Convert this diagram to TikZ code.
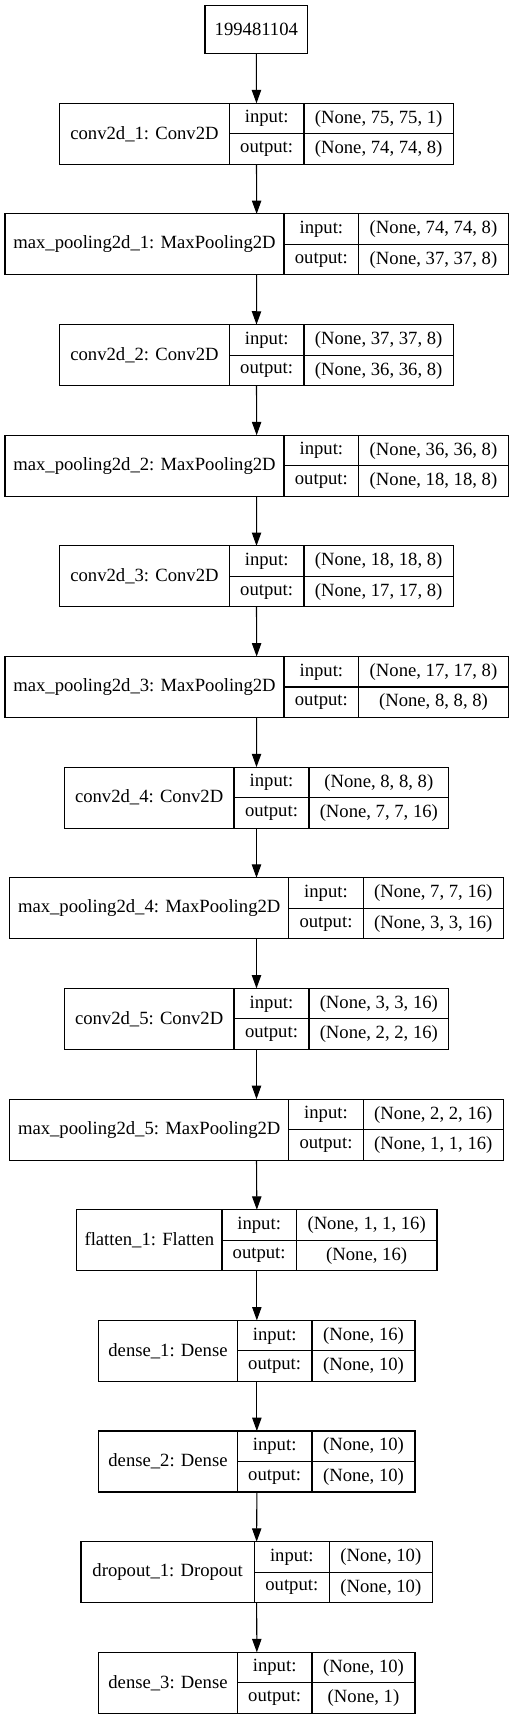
\documentclass[tikz,border=0pt]{standalone}
\usepackage{fontspec}
\setmainfont{Liberation Serif}
\usetikzlibrary{arrows.meta}

\tikzset{
  layerbox/.style={draw, line width=0.8pt, inner sep=0pt, outer sep=0pt, anchor=north west},
  celltext/.style={inner sep=0pt, font=\fontsize{14}{16}\selectfont},
  flow/.style={line width=0.8pt, -{Triangle[length=10pt,width=7pt]}}
}

\begin{document}
\begin{tikzpicture}[x=0.75pt, y=-0.75pt]
  \useasboundingbox (0,0) rectangle (513,1720);

  % Input node
  \node[layerbox, minimum width=77pt, minimum height=36pt] (l0) at (205,5.7) {};
  \node[celltext] (l0-text) at (l0.center) {199481104};

  % Layers: index / name / left / divider 1 / divider 2 / right / input / output
  \foreach \i/\lname/\L/\A/\B/\R/\vin/\vout
    [evaluate=\i as \T using 103.3+110.64*(\i-1)] in {
    1/conv2d\_1: Conv2D/59.7/229.3/304/453.3/{(None, 75, 75, 1)}/{(None, 74, 74, 8)},
    2/max\_pooling2d\_1: MaxPooling2D/5/284/358.7/508.3/{(None, 74, 74, 8)}/{(None, 37, 37, 8)},
    3/conv2d\_2: Conv2D/59.7/229.3/304/453.3/{(None, 37, 37, 8)}/{(None, 36, 36, 8)},
    4/max\_pooling2d\_2: MaxPooling2D/5/284/358.7/508.3/{(None, 36, 36, 8)}/{(None, 18, 18, 8)},
    5/conv2d\_3: Conv2D/59.7/229.3/304/453.3/{(None, 18, 18, 8)}/{(None, 17, 17, 8)},
    6/max\_pooling2d\_3: MaxPooling2D/5/284/358.7/508.3/{(None, 17, 17, 8)}/{(None, 8, 8, 8)},
    7/conv2d\_4: Conv2D/64.3/234/309/448.7/{(None, 8, 8, 8)}/{(None, 7, 7, 16)},
    8/max\_pooling2d\_4: MaxPooling2D/9.7/288.7/363.3/503.3/{(None, 7, 7, 16)}/{(None, 3, 3, 16)},
    9/conv2d\_5: Conv2D/64.3/234/309/448.7/{(None, 3, 3, 16)}/{(None, 2, 2, 16)},
    10/max\_pooling2d\_5: MaxPooling2D/9.7/288.7/363.3/503.3/{(None, 2, 2, 16)}/{(None, 1, 1, 16)},
    11/flatten\_1: Flatten/76.7/222/296.3/437/{(None, 1, 1, 16)}/{(None, 16)},
    12/dense\_1: Dense/98.7/237.3/312/415/{(None, 16)}/{(None, 10)},
    13/dense\_2: Dense/98.7/237.3/312/415/{(None, 10)}/{(None, 10)},
    14/dropout\_1: Dropout/81/254.3/329.3/432.3/{(None, 10)}/{(None, 10)},
    15/dense\_3: Dense/98.7/237.3/312/415/{(None, 10)}/{(None, 1)}} {
    \pgfmathsetmacro\W{(\R-\L)*0.75}
    \pgfmathtruncatemacro\prev{\i-1}
    \node[layerbox, minimum width=\W pt, minimum height=45.75pt] (l\i) at (\L,\T) {};
    % cell borders
    \draw[line width=0.8pt] (\A,\T) -- (\A,\T+61);
    \draw[line width=0.8pt] (\B,\T) -- (\B,\T+61);
    \draw[line width=0.8pt] (\A,\T+30.5) -- (\R,\T+30.5);
    % cell texts
    \node[celltext] (l\i-name) at ({(\L+\A)/2},\T+30.5) {\lname};
    \node[celltext] (l\i-inkey) at ({(\A+\B)/2},\T+15.5) {input:};
    \node[celltext] (l\i-outkey) at ({(\A+\B)/2},\T+46) {output:};
    \node[celltext] (l\i-in) at ({(\B+\R)/2},\T+15.5) {\vin};
    \node[celltext] (l\i-out) at ({(\B+\R)/2},\T+46) {\vout};
    % connector from previous layer
    \draw[flow] (l\prev.south) -- (l\i.north);
  }
\end{tikzpicture}
\end{document}
